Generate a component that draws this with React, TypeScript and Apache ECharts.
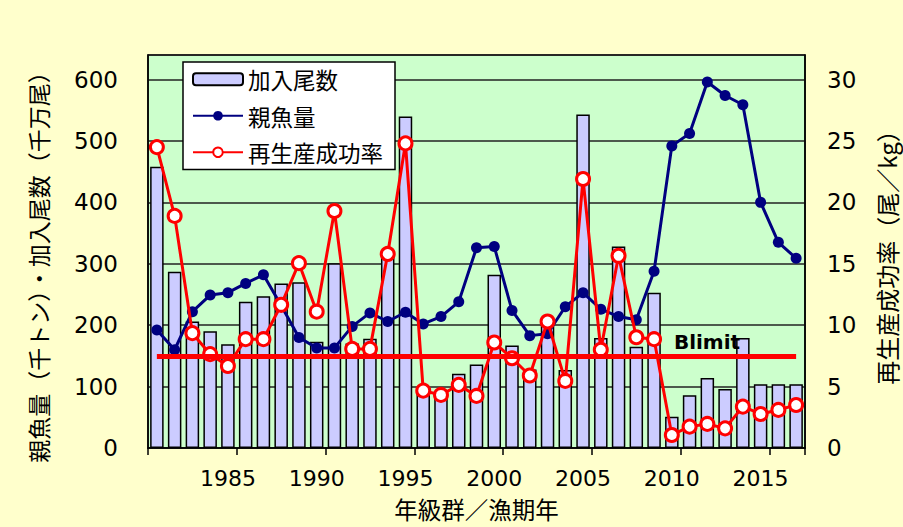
import React, { useEffect, useRef } from "react";
import * as echarts from "echarts";

const years = [
  "1981", "1982", "1983", "1984", "1985", "1986", "1987", "1988", "1989", "1990",
  "1991", "1992", "1993", "1994", "1995", "1996", "1997", "1998", "1999", "2000",
  "2001", "2002", "2003", "2004", "2005", "2006", "2007", "2008", "2009", "2010",
  "2011", "2012", "2013", "2014", "2015", "2016", "2017",
];

// 加入尾数 (千万尾)
const recruits = [
  458, 287, 206, 190, 169, 238, 247, 268, 270, 173,
  301, 170, 178, 320, 540, 90, 92, 121, 136, 282,
  167, 128, 200, 127, 543, 179, 328, 165, 253, 51,
  86, 114, 96, 179, 104, 104, 104,
];

// 親魚量 (千トン)
const spawning = [
  192, 160, 222, 249, 253, 268, 282, 232, 180, 163,
  163, 198, 220, 206, 221, 202, 214, 238, 326, 328,
  224, 183, 186, 230, 253, 226, 214, 209, 288, 492,
  512, 596, 574, 559, 400, 335, 309,
];

// 再生産成功率 (尾/kg)
const successRate = [
  24.5, 18.9, 9.35, 7.64, 6.68, 8.86, 8.86, 11.66, 15.05, 11.1,
  19.3, 8.07, 8.07, 15.8, 24.8, 4.67, 4.32, 5.14, 4.24, 8.59,
  7.31, 5.9, 10.3, 5.46, 21.9, 8.0, 15.65, 9.02, 8.86, 1.06,
  1.74, 1.96, 1.6, 3.37, 2.77, 3.1, 3.5,
];

const BLIMIT = 150;
const leftTicksMax = 600;
const rightTicksMax = 30;

const FONT = "'DejaVu Sans', 'Noto Sans CJK JP', sans-serif";
const JFONT = "'Noto Sans CJK JP', sans-serif";

export default function App() {
  const ref = useRef<HTMLDivElement>(null);

  useEffect(() => {
    if (!ref.current) return;
    const chart = echarts.init(ref.current, undefined, { renderer: "svg" });
    chart.setOption({
      animation: false,
      backgroundColor: "#FFFFCC",
      textStyle: { fontFamily: FONT },
      grid: {
        left: 148,
        top: 55,
        right: 98,
        bottom: 79,
        show: true,
        backgroundColor: "#CCFFCC",
        borderColor: "#000",
        borderWidth: 1.5,
        containLabel: false,
        outerBoundsMode: "none",
      },
      legend: {
        left: 183,
        top: 62,
        orient: "vertical",
        backgroundColor: "#ffffff",
        borderColor: "#000",
        borderWidth: 1.5,
        borderRadius: 0,
        padding: [6, 12, 6, 9],
        itemWidth: 50,
        itemHeight: 12,
        itemGap: 14,
        textStyle: { fontSize: 22.5, color: "#000", fontFamily: JFONT },
        data: [
          { name: "加入尾数", icon: "roundRect" },
          { name: "親魚量" },
          { name: "再生産成功率" },
        ],
      },
      xAxis: {
        type: "category",
        data: years,
        boundaryGap: true,
        axisLine: { show: true, lineStyle: { color: "#000", width: 1.5 } },
        axisTick: {
          show: true,
          interval: (i: number) => i % 5 === 0,
          length: 7,
          lineStyle: { color: "#000", width: 1.5 },
        },
        axisLabel: {
          interval: (_i: number, v: string) => Number(v) % 5 === 0,
          margin: 19,
          fontSize: 22,
          color: "#000",
          fontFamily: FONT,
        },
        splitLine: { show: false },
        name: "年級群／漁期年",
        nameLocation: "middle",
        nameGap: 49,
        nameMoveOverlap: false,
        nameTextStyle: { fontSize: 23.5, color: "#000", fontFamily: JFONT },
      },
      yAxis: [
        {
          type: "value",
          min: 0,
          max: 640,
          interval: 100,
          axisLine: { show: true, lineStyle: { color: "#000", width: 1.5 } },
          axisTick: { show: false },
          splitLine: { show: true, lineStyle: { color: "#222", width: 1.5 } },
          axisLabel: {
            formatter: (v: number) => (v <= leftTicksMax ? String(v) : ""),
            margin: 30,
            fontSize: 23,
            color: "#000",
            fontFamily: FONT,
          },
          name: "親魚量（千トン）・加入尾数（千万尾）",
          nameLocation: "middle",
          nameRotate: 90,
          nameGap: 99,
          nameMoveOverlap: false,
          nameTextStyle: { fontSize: 23, color: "#000", fontFamily: JFONT, padding: [0, 20, 0, 0] },
        },
        {
          type: "value",
          min: 0,
          max: 32,
          interval: 5,
          position: "right",
          axisLine: { show: true, lineStyle: { color: "#000", width: 1.5 } },
          axisTick: { show: false },
          splitLine: { show: false },
          axisLabel: {
            formatter: (v: number) => (v <= rightTicksMax ? String(v) : ""),
            margin: 22,
            fontSize: 23,
            color: "#000",
            fontFamily: FONT,
          },
          name: "再生産成功率（尾／kg）",
          nameLocation: "middle",
          nameRotate: 90,
          nameGap: 69,
          nameMoveOverlap: false,
          nameTextStyle: { fontSize: 24, color: "#000", fontFamily: JFONT, padding: [0, 0, 0, 0] },
        },
      ],
      series: [
        {
          name: "加入尾数",
          type: "bar",
          data: recruits,
          barCategoryGap: "24%",
          itemStyle: { color: "#CCCCFF", borderColor: "#000", borderWidth: 1.5 },
          z: 2,
        },
        {
          name: "親魚量",
          type: "line",
          data: spawning,
          symbol: "circle",
          symbolSize: 11,
          showAllSymbol: true,
          lineStyle: { color: "#000080", width: 3 },
          itemStyle: { color: "#000080" },
          z: 3,
          markLine: {
            silent: true,
            symbol: "none",
            lineStyle: { color: "#FF0000", width: 5, type: "solid" },
            label: {
              show: true,
              formatter: "Blimit",
              position: "insideEndTop",
              distance: [56, 4],
              color: "#000",
              fontSize: 20,
              fontWeight: "bold",
              fontFamily: FONT,
            },
            data: [[{ coord: [years[0], BLIMIT] }, { coord: [years[years.length - 1], BLIMIT] }]],
          },
        },
        {
          name: "再生産成功率",
          type: "line",
          yAxisIndex: 1,
          data: successRate,
          symbol: "circle",
          symbolSize: 13,
          showAllSymbol: true,
          lineStyle: { color: "#FF0000", width: 3 },
          itemStyle: { color: "#ffffff", borderColor: "#FF0000", borderWidth: 3 },
          z: 4,
        },
      ],
    });
    return () => chart.dispose();
  }, []);

  return (
    <div
      ref={ref}
      style={{ position: "absolute", left: 0, top: 0, width: 903, height: 527 }}
    />
  );
}
